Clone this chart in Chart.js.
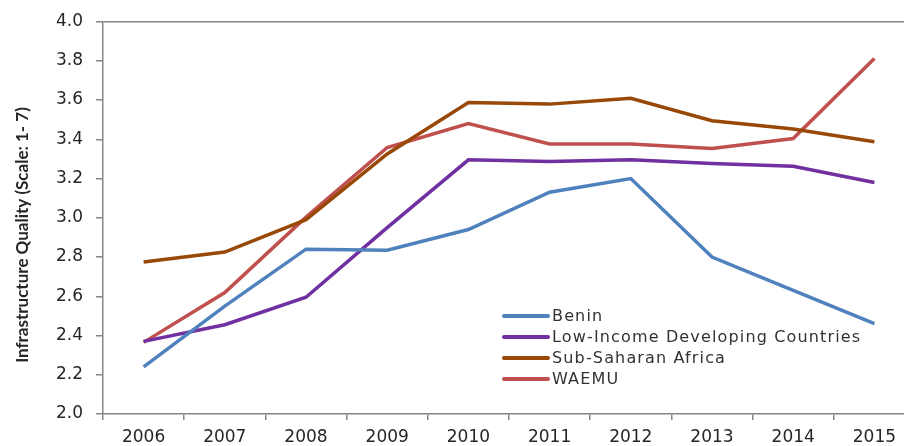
<!DOCTYPE html>
<html>
<head>
<meta charset="utf-8">
<script src="https://cdn.jsdelivr.net/npm/chart.js@4.4.1/dist/chart.umd.min.js"></script>
<style>
  html, body { margin: 0; padding: 0; background: #fff; overflow: hidden; }
  #wrap { width: 915px; height: 446px; position: relative; }
</style>
</head>
<body>
<div id="wrap"><canvas id="chart"></canvas></div>
<script>
const years = ["2006","2007","2008","2009","2010","2011","2012","2013","2014","2015"];
const benin = [2.24, 2.55, 2.84, 2.835, 2.94, 3.13, 3.20, 2.80, 2.63, 2.46];
const lidc  = [2.37, 2.455, 2.595, 2.95, 3.295, 3.286, 3.295, 3.277, 3.262, 3.18];
const ssa   = [2.775, 2.825, 2.99, 3.325, 3.587, 3.579, 3.609, 3.494, 3.452, 3.387];
const waemu = [2.365, 2.619, 3.003, 3.358, 3.48, 3.376, 3.376, 3.353, 3.404, 3.812];
const yTicks = [2.0, 2.2, 2.4, 2.6, 2.8, 3.0, 3.2, 3.4, 3.6, 3.8, 4.0];
const yTitle = "Infrastructure Quality (Scale: 1- 7)";

const axisGray = "#868686";
const textColor = "#262626";
const fontFamily = "'DejaVu Sans', sans-serif";

function line(label, data, color) {
  return { label, data, borderColor: color, backgroundColor: color, borderWidth: 3.5,
    pointRadius: 0, tension: 0, fill: false };
}

// legend inside the plot area + rotated axis title, like the original
const extras = {
  id: "extras",
  afterDraw(chart) {
    const ctx = chart.ctx;
    const x0 = 504, y0 = 316, rowH = 21;
    ctx.save();
    ctx.font = "16px " + fontFamily;
    ctx.letterSpacing = "1.15px";
    ctx.textBaseline = "middle";
    chart.data.datasets.forEach((ds, i) => {
      const y = y0 + i * rowH;
      ctx.strokeStyle = ds.borderColor;
      ctx.lineWidth = 4;
      ctx.lineCap = "round";
      ctx.beginPath(); ctx.moveTo(x0, y); ctx.lineTo(x0 + 44, y); ctx.stroke();
      ctx.fillStyle = "#333";
      ctx.fillText(ds.label, x0 + 48, y + 1);
    });
    ctx.restore();

    ctx.save();
    ctx.translate(23, 235);
    ctx.rotate(-Math.PI / 2);
    ctx.font = "bold 17px Lato, sans-serif";
    ctx.fillStyle = textColor;
    ctx.textAlign = "center";
    ctx.textBaseline = "middle";
    ctx.fillText(yTitle, 0, 0, 276);
    ctx.restore();
  }
};

new Chart(document.getElementById("chart"), {
  type: "line",
  data: {
    labels: years,
    datasets: [
      line("Benin", benin, "#4F81BD"),
      line("Low-Income Developing Countries", lidc, "#7030A0"),
      line("Sub-Saharan Africa", ssa, "#984807"),
      line("WAEMU", waemu, "#C0504D")
    ]
  },
  options: {
    responsive: true,
    maintainAspectRatio: false,
    animation: false,
    layout: { padding: { top: 12, left: 0, right: 0, bottom: 0 } },
    plugins: { legend: { display: false }, tooltip: { enabled: false } },
    scales: {
      x: {
        type: "category",
        offset: true,
        grid: { offset: true, drawOnChartArea: false, tickLength: 6, color: axisGray, lineWidth: 1.5 },
        border: { display: true, color: axisGray, width: 1.5 },
        ticks: { color: textColor, font: { family: fontFamily, size: 17 }, padding: 7, maxRotation: 0 },
        afterFit(scale) { scale.height = 32; }
      },
      y: {
        min: 2, max: 4,
        afterBuildTicks(scale) { scale.ticks = yTicks.map(v => ({ value: v })); },
        grid: {
          drawOnChartArea: true, tickLength: 7, tickColor: axisGray, lineWidth: 1.5,
          color: c => (c.tick && c.tick.value === 4 ? axisGray : "rgba(0,0,0,0)")
        },
        border: { display: true, color: axisGray, width: 1.5 },
        ticks: { color: textColor, font: { family: fontFamily, size: 17, lineHeight: 1 }, padding: 13,
          callback: v => Number(v).toFixed(1) },
        afterFit(scale) { scale.width = 103; }
      }
    }
  },
  plugins: [extras]
});
</script>
</body>
</html>
